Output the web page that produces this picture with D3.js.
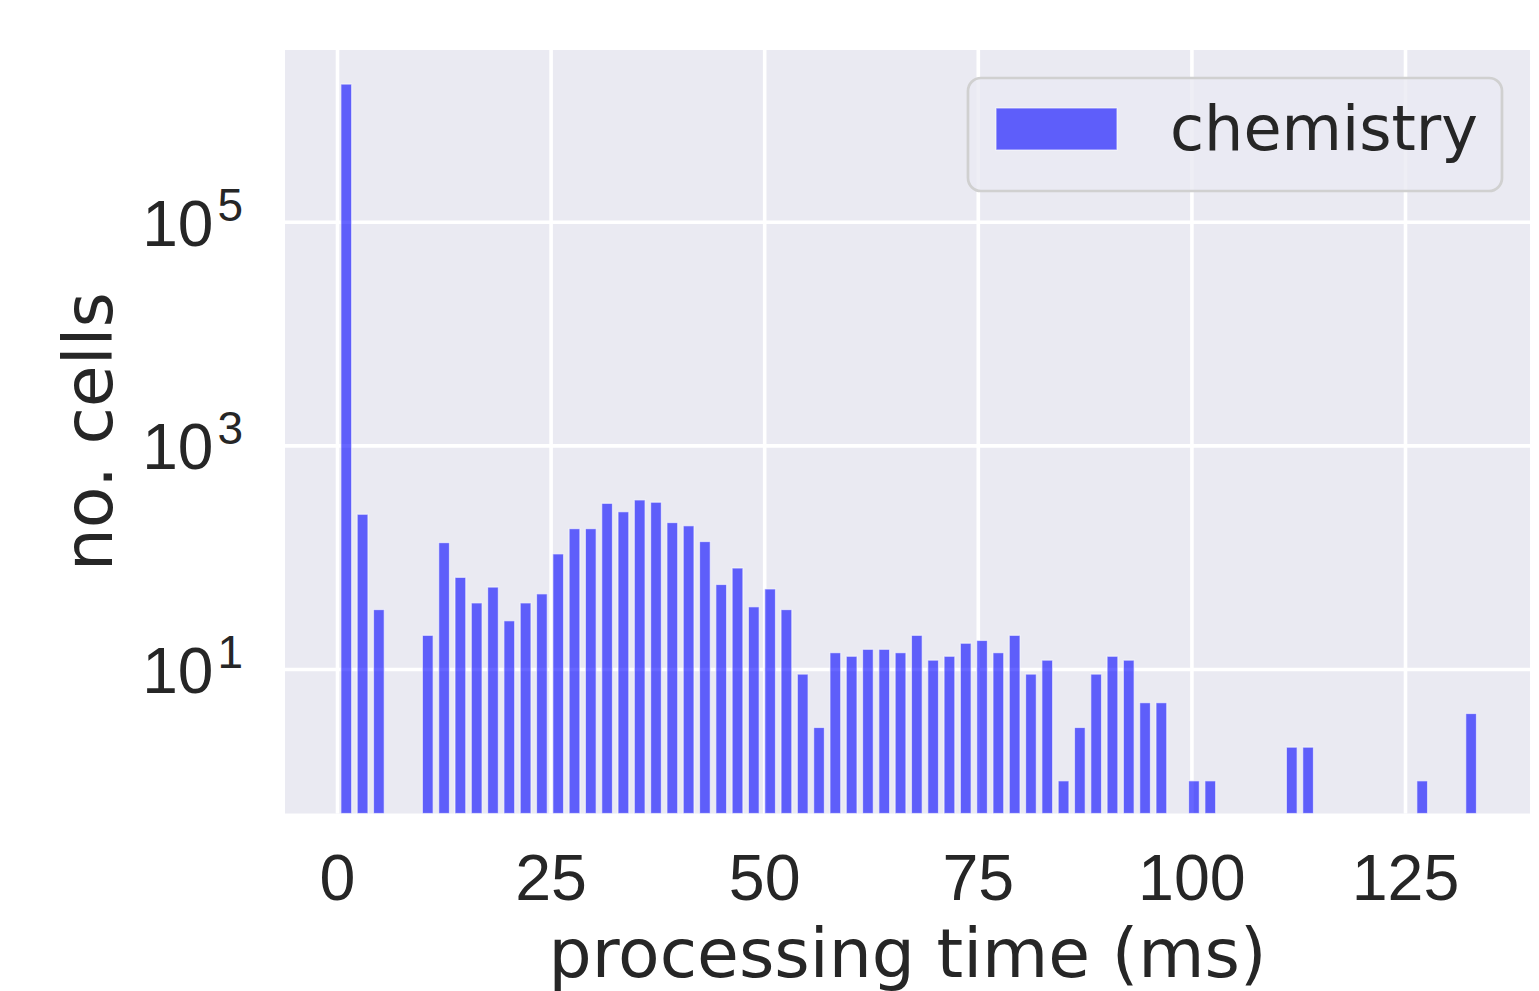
<!DOCTYPE html>
<html>
<head>
<meta charset="utf-8">
<script src="https://cdn.jsdelivr.net/npm/d3@7"></script>
<style>
  body { margin: 0; background: #fff; }
  svg { display: block; font-family: "DejaVu Sans", sans-serif; }
</style>
</head>
<body>
<script>
// histogram of processing time per cell, log counts
const seriesName = "chemistry";
const binStart = 0.13;
const binWidth = 1.908;
const counts = [
  1.7e6, 242, 34, 0, 0, 20, 135, 66, 39, 54,
  27, 39, 47, 107, 180, 180, 303, 255, 325, 310,
  204, 191, 138, 57, 80, 36, 52, 34, 9, 3,
  14, 13, 15, 15, 14, 20, 12, 13, 17, 18,
  14, 20, 9, 12, 1, 3, 9, 13, 12, 5,
  5, 0, 1, 1, 0, 0, 0, 0, 2, 2,
  0, 0, 0, 0, 0, 0, 1, 0, 0, 4
];
const xTicks = [0, 25, 50, 75, 100, 125];
const yTicks = [1e1, 1e3, 1e5];
const xLabel = "processing time (ms)";
const yLabel = "no. cells";

const width = 1539, height = 991;
const margin = { top: 50, right: 9, bottom: 177.5, left: 285 };
const plotW = width - margin.left - margin.right;
const plotH = height - margin.top - margin.bottom;
const ink = "#262626";
const barFill = "rgba(0,0,255,0.6)";

const bins = counts.map((c, i) => ({
  x0: binStart + i * binWidth,
  x1: binStart + (i + 1) * binWidth,
  count: c
}));

const x = d3.scaleLinear().domain([-6.086, 139.63]).range([0, plotW]);
const y = d3.scaleLog().domain([10 ** -0.2921, 10 ** 6.5354]).range([plotH, 0]);

const svg = d3.select("body").append("svg")
  .attr("width", width)
  .attr("height", height);

const g = svg.append("g")
  .attr("transform", `translate(${margin.left},${margin.top})`);

g.append("rect")
  .attr("width", plotW)
  .attr("height", plotH)
  .attr("fill", "#EAEAF2");

// grid
g.append("g")
  .attr("transform", `translate(0,${plotH})`)
  .call(d3.axisBottom(x).tickValues(xTicks).tickSize(-plotH).tickFormat(""))
  .call(s => s.select(".domain").remove())
  .call(s => s.selectAll("line").attr("stroke", "#fff").attr("stroke-width", 3.6));

g.append("g")
  .call(d3.axisLeft(y).tickValues(yTicks).tickSize(-plotW).tickFormat(""))
  .call(s => s.select(".domain").remove())
  .call(s => s.selectAll("line").attr("stroke", "#fff").attr("stroke-width", 3.6));

// bars
const rwidth = 0.66;
g.append("g")
  .selectAll("rect")
  .data(bins.filter(d => d.count > 0))
  .join("rect")
  .attr("x", d => x(d.x0 + (1 - rwidth) / 2 * binWidth))
  .attr("width", d => x(d.x0 + binWidth * rwidth) - x(d.x0))
  .attr("y", d => y(d.count))
  .attr("height", d => plotH - y(d.count))
  .attr("fill", barFill)
  .attr("stroke", "rgba(255,255,255,0.6)")
  .attr("stroke-width", 1.2);

// x axis labels
g.append("g")
  .attr("transform", `translate(0,${plotH})`)
  .call(d3.axisBottom(x).tickValues(xTicks).tickSize(0).tickPadding(0))
  .call(s => s.select(".domain").remove())
  .call(s => s.selectAll("text")
    .attr("y", 86.5)
    .attr("dy", 0)
    .attr("fill", ink)
    .style("font-size", "64.5px"));

// y axis labels with superscript exponents
g.append("g")
  .call(d3.axisLeft(y).tickValues(yTicks).tickSize(0).tickPadding(42).tickFormat(""))
  .call(s => s.select(".domain").remove())
  .call(s => s.selectAll("text")
    .attr("dy", 23.3)
    .attr("fill", ink)
    .style("font-size", "64px")
    .each(function(d) {
      const t = d3.select(this);
      t.append("tspan").text("10");
      t.append("tspan")
        .attr("dx", 4)
        .attr("dy", -25)
        .style("font-size", "46px")
        .text(Math.round(Math.log10(d)));
    }));

// axis titles
svg.append("text")
  .attr("x", margin.left + plotW / 2)
  .attr("y", 977)
  .attr("text-anchor", "middle")
  .attr("fill", ink)
  .style("font-size", "68px")
  .text(xLabel);

svg.append("text")
  .attr("transform", `translate(111.7,${margin.top + plotH / 2}) rotate(-90)`)
  .attr("text-anchor", "middle")
  .attr("fill", ink)
  .style("font-size", "68px")
  .text(yLabel);

// legend
const legend = svg.append("g").attr("transform", "translate(968,78)");
legend.append("rect")
  .attr("width", 534)
  .attr("height", 113)
  .attr("rx", 13)
  .attr("fill", "rgba(234,234,242,0.8)")
  .attr("stroke", "#d0d0d0")
  .attr("stroke-width", 2.7);
legend.append("rect")
  .attr("x", 28)
  .attr("y", 30)
  .attr("width", 121)
  .attr("height", 42)
  .attr("fill", barFill)
  .attr("stroke", "rgba(255,255,255,0.6)")
  .attr("stroke-width", 1.2);
legend.append("text")
  .attr("x", 202)
  .attr("y", 72)
  .attr("fill", ink)
  .style("font-size", "62px")
  .text(seriesName);
</script>
</body>
</html>
